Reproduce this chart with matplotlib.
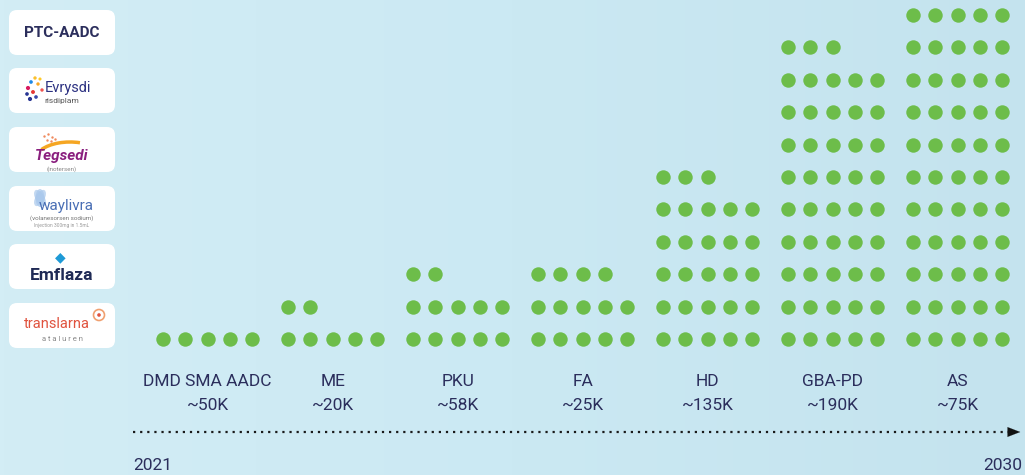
import matplotlib.pyplot as plt
import numpy as np
from matplotlib.patches import FancyBboxPatch, Ellipse, Circle, Arc

# Data
categories = ["DMD SMA AADC", "ME", "PKU", "FA", "HD", "GBA-PD", "AS"]
patients = ["~50K", "~20K", "~58K", "~25K", "~135K", "~190K", "~75K"]
dot_counts = [5, 7, 12, 14, 28, 48, 55]
year_start, year_end = "2021", "2030"

DOT = "#6dbd4a"
NAVY = "#2b2e5c"
W, H = 1025, 475

fig = plt.figure(figsize=(W / 100, H / 100), dpi=100)
ax = fig.add_axes([0, 0, 1, 1])
ax.set_xlim(0, W)
ax.set_ylim(H, 0)
ax.axis("off")

# background gradient
grad = np.linspace(0, 1, 256)[None, :]
bg = plt.matplotlib.colors.LinearSegmentedColormap.from_list(
    "bg", ["#d3edf5", "#cbe9f3", "#c4e3ee"])
ax.imshow(grad, extent=[0, W, H, 0], cmap=bg, aspect="auto", zorder=0)

# dot columns
col_x0, col_step = 163, 125
dx, dy = 22.3, 32.4
row0_y = 339
for i, n in enumerate(dot_counts):
    idx = np.arange(n)
    xs = col_x0 + i * col_step + (idx % 5) * dx
    ys = row0_y - (idx // 5) * dy
    ax.scatter(xs, ys, s=108, color=DOT, linewidths=0, zorder=3)
    cx = col_x0 + i * col_step + 2 * dx
    ax.text(cx, 381, categories[i], ha="center", va="center",
            fontsize=12.5, color=NAVY, family="Roboto")
    ax.text(cx, 405, patients[i], ha="center", va="center",
            fontsize=12.5, color=NAVY, family="Roboto")

# timeline
ax.plot([133, 1008], [432, 432], ls=(0, (1, 2.2)), lw=1.6, color="#1a1a1a", zorder=2)
ax.annotate("", xy=(1023, 432), xytext=(1006, 432),
            arrowprops=dict(arrowstyle="-|>,head_length=0.9,head_width=0.35",
                            color="#111111", lw=0.1))
ax.text(133, 465, year_start, ha="left", va="center", fontsize=12.5,
        color=NAVY, family="Roboto")
ax.text(1022, 465, year_end, ha="right", va="center", fontsize=12.5,
        color=NAVY, family="Roboto")

# product boxes on the left
box_tops = [10, 68, 127, 186, 244, 303]
for t in box_tops:
    ax.add_patch(FancyBboxPatch((9, t), 106, 45,
                                boxstyle="round,pad=0,rounding_size=8",
                                fc="white", ec="none", zorder=2))

cx = 62
ax.text(cx, 33, "PTC-AADC", ha="center", va="center", fontsize=11,
        fontweight="bold", color=NAVY, family="Roboto", zorder=3)

# Evrysdi
ax.scatter([28, 31, 35, 27, 33, 38, 30, 36, 40, 42],
           [88, 82, 78, 94, 92, 84, 99, 97, 79, 90],
           s=[9, 7, 6, 7, 8, 6, 9, 7, 5, 6],
           color=["#d81b60", "#1e88e5", "#fbc02d", "#283593", "#e53935",
                  "#f9a825", "#283593", "#3949ab", "#ffca28", "#ef5350"],
           linewidths=0, zorder=3)
ax.text(68, 88, "Evrysdi", ha="center", va="center", fontsize=10.5,
        color="#2d3282", family="Roboto", zorder=3)
ax.text(62, 101, "risdiplam", ha="center", va="center", fontsize=6,
        color="#555555", family="Roboto", zorder=3)

# Tegsedi
ax.add_patch(Arc((70, 160), 70, 36, theta1=200, theta2=300,
                 color="#f5a623", lw=2.5, zorder=3))
ax.scatter([44, 48, 52, 47, 51, 55], [136, 134, 137, 140, 141, 139],
           s=3, color="#f08a5d", linewidths=0, zorder=3)
ax.text(cx, 156, "Tegsedi", ha="center", va="center", fontsize=11,
        style="italic", fontweight="bold", color="#8a1f7e", family="Roboto", zorder=4)
ax.text(cx, 169, "(inotersen)", ha="center", va="center", fontsize=4.5,
        color="#888888", family="Roboto", zorder=3)

# Waylivra
for ang in (-30, 0, 30):
    ax.add_patch(Ellipse((40, 198), 9, 18, angle=ang, fc="#a9c8ec",
                         ec="none", alpha=0.7, zorder=3))
ax.text(cx + 4, 206, "waylivra", ha="center", va="center", fontsize=11,
        color="#4a6fb5", family="Roboto", zorder=4)
ax.text(cx, 218, "(volanesorsen sodium)", ha="center", va="center", fontsize=4.5,
        color="#777777", family="Roboto", zorder=3)
ax.text(cx, 225, "Injection 300mg in 1.5mL", ha="center", va="center", fontsize=3.5,
        color="#999999", family="Roboto", zorder=3)

# Emflaza
ax.text(cx - 2, 257, "\u25c6", ha="center", va="center", fontsize=10,
        color="#1e9ad6", zorder=3)
ax.text(cx, 275, "Emflaza", ha="center", va="center", fontsize=12.5,
        fontweight="bold", color="#1f2a55", family="Roboto", zorder=3)

# Translarna
ax.add_patch(Circle((99, 315), 5.5, fc="none", ec="#f0a070", lw=1.2, zorder=3))
ax.add_patch(Circle((99, 315), 1.8, fc="#e0533f", ec="none", zorder=3))
ax.text(cx - 5, 324, "translarna", ha="center", va="center", fontsize=10.5,
        color="#e0533f", family="Roboto", zorder=3)
ax.text(cx, 339, "a t a l u r e n", ha="center", va="center", fontsize=5.5,
        color="#888888", family="Roboto", zorder=3)

fig.savefig("out.png", dpi=100)
